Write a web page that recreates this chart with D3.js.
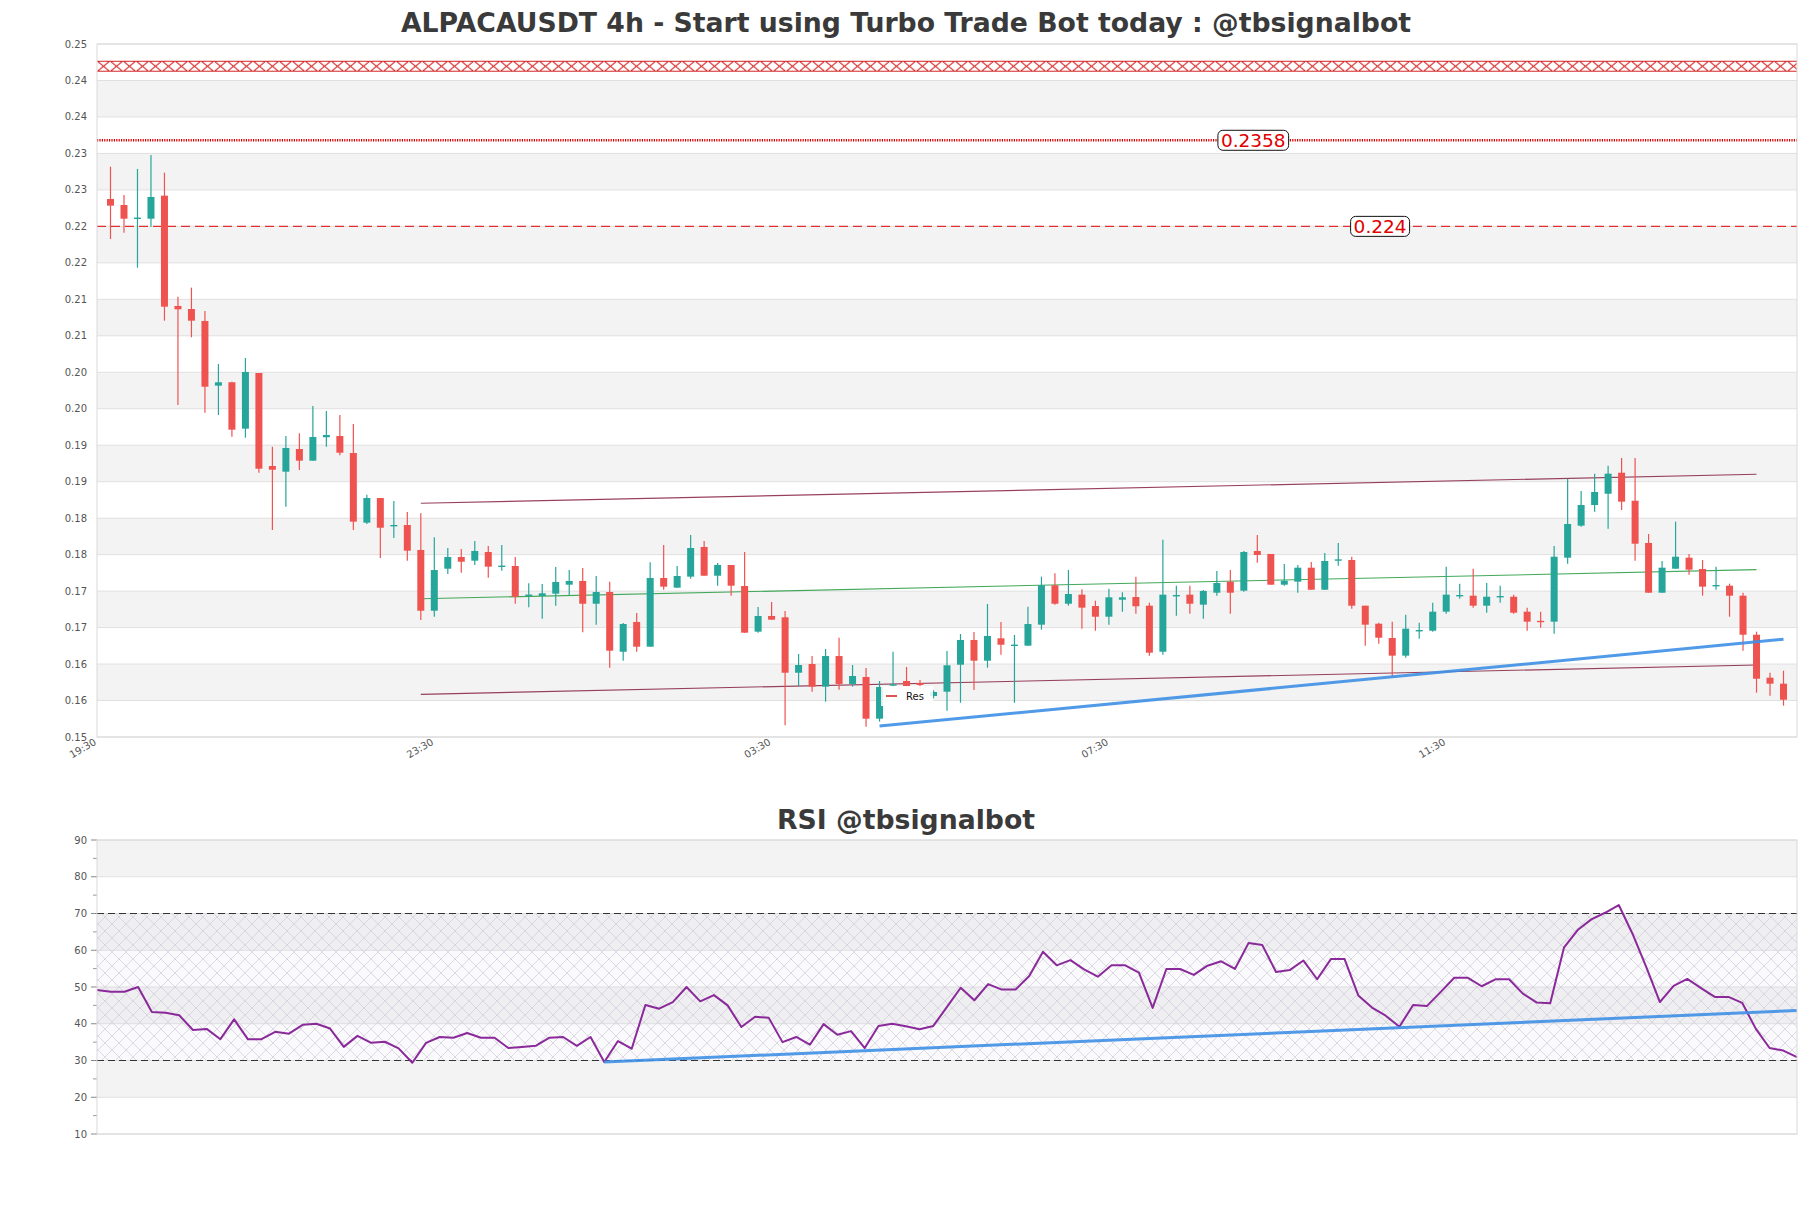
<!DOCTYPE html>
<html><head><meta charset="utf-8">
<script src="https://cdn.jsdelivr.net/npm/d3@7"></script>
<style>body{margin:0;background:#fff;} svg{display:block;font-family:"DejaVu Sans",sans-serif;}</style>
</head><body><svg id="c" width="1811" height="1208"></svg>
<script>
// ---------------- DATA ----------------
const mainTitle = "ALPACAUSDT 4h - Start using Turbo Trade Bot today : @tbsignalbot";
const rsiTitle = "RSI @tbsignalbot";
const timeLabels = ["19:30","23:30","03:30","07:30","11:30"];
const timeTickIdx = [-1,24,49,74,99];
const priceTickValues = [0.154,0.159,0.164,0.169,0.174,0.179,0.184,0.189,0.194,0.199,0.204,0.209,0.214,0.219,0.224,0.229,0.234,0.239,0.244,0.249];
const rsiTickValues = [10,20,30,40,50,60,70,80,90];

const open = [0.22775,0.22693,0.22511,0.22505,0.22821,0.21309,0.21267,0.21103,0.20216,0.20263,
0.19627,0.20390,0.19115,0.19037,0.19348,0.19188,0.19509,0.19526,0.19293,0.18338,
0.18676,0.18297,0.18306,0.17964,0.17131,0.17707,0.17868,0.17817,0.17936,0.17740,
0.17744,0.17343,0.17333,0.17365,0.17488,0.17539,0.17227,0.17388,0.16569,0.16977,
0.16638,0.17580,0.17447,0.17598,0.18005,0.17611,0.17758,0.17470,0.16844,0.17059,
0.17041,0.16281,0.16401,0.16090,0.16510,0.16127,0.16223,0.15651,0.16113,0.16168,
0.16140,0.15962,0.16021,0.16391,0.16730,0.16446,0.16753,0.16657,0.16652,0.16940,
0.17480,0.17227,0.17351,0.17196,0.17049,0.17282,0.17319,0.17200,0.16569,0.17337,
0.17351,0.17214,0.17378,0.17529,0.17406,0.17950,0.17909,0.17488,0.17529,0.17721,
0.17419,0.17826,0.17826,0.17200,0.16953,0.16757,0.16515,0.16857,0.16857,0.17118,
0.17337,0.17337,0.17200,0.17323,0.17323,0.17118,0.16985,0.16981,0.17858,0.18297,
0.18580,0.18735,0.19023,0.18639,0.18060,0.17378,0.17707,0.17858,0.17703,0.17474,
0.17474,0.17337,0.16802,0.16213,0.16131];
const high = [0.23218,0.22830,0.23187,0.23379,0.23136,0.21436,0.21560,0.21240,0.20514,0.20270,
0.20596,0.20390,0.19380,0.19526,0.19563,0.19938,0.19869,0.19814,0.19691,0.18722,
0.18676,0.18635,0.18485,0.18467,0.18138,0.17991,0.17977,0.18087,0.18018,0.18032,
0.17868,0.17507,0.17498,0.17731,0.17689,0.17717,0.17607,0.17529,0.16963,0.17100,
0.17795,0.18032,0.17744,0.18169,0.18087,0.17785,0.17758,0.17936,0.17182,0.17251,
0.17127,0.16538,0.16510,0.16606,0.16761,0.16387,0.16346,0.16168,0.16569,0.16360,
0.16181,0.16040,0.16579,0.16812,0.16839,0.17223,0.16977,0.16798,0.17186,0.17598,
0.17644,0.17689,0.17425,0.17269,0.17433,0.17384,0.17598,0.17241,0.18105,0.17474,
0.17474,0.17415,0.17676,0.17689,0.17950,0.18169,0.17909,0.17772,0.17758,0.17799,
0.17922,0.18060,0.17872,0.17200,0.16967,0.16981,0.17077,0.16967,0.17241,0.17735,
0.17502,0.17707,0.17511,0.17474,0.17351,0.17173,0.17118,0.18018,0.18941,0.18772,
0.19010,0.19119,0.19225,0.19225,0.18183,0.17813,0.18352,0.17909,0.17826,0.17735,
0.17502,0.17378,0.16844,0.16281,0.16309];
const low = [0.22227,0.22313,0.21834,0.22396,0.21107,0.19951,0.20880,0.19846,0.19814,0.19517,
0.19503,0.19023,0.18238,0.18557,0.19060,0.19188,0.19380,0.19262,0.18238,0.18320,
0.17854,0.18128,0.17817,0.17004,0.17049,0.17635,0.17652,0.17758,0.17584,0.17680,
0.17227,0.17178,0.17022,0.17200,0.17347,0.16835,0.16940,0.16350,0.16446,0.16569,
0.16638,0.17419,0.17447,0.17570,0.17611,0.17474,0.17337,0.16830,0.16830,0.17008,
0.15560,0.16095,0.16021,0.15884,0.16048,0.16090,0.15541,0.15610,0.16090,0.16090,
0.16060,0.15930,0.15761,0.15870,0.16044,0.16350,0.16528,0.15870,0.16652,0.16871,
0.17214,0.17200,0.16885,0.16857,0.16940,0.17118,0.17090,0.16515,0.16528,0.17063,
0.17090,0.17022,0.17337,0.17090,0.17392,0.17790,0.17488,0.17474,0.17378,0.17419,
0.17419,0.17748,0.17159,0.16652,0.16679,0.16227,0.16487,0.16748,0.16844,0.17090,
0.17296,0.17173,0.17104,0.17241,0.17090,0.16857,0.16898,0.16816,0.17776,0.18283,
0.18489,0.18256,0.18512,0.17817,0.17378,0.17378,0.17707,0.17625,0.17337,0.17419,
0.17049,0.16583,0.16007,0.15966,0.15829];
const close = [0.22684,0.22505,0.22511,0.22803,0.21299,0.21263,0.21107,0.20202,0.20263,0.19613,
0.20404,0.19078,0.19064,0.19362,0.19188,0.19513,0.19540,0.19297,0.18352,0.18676,
0.18269,0.18297,0.17954,0.17131,0.17689,0.17868,0.17803,0.17950,0.17735,0.17740,
0.17323,0.17343,0.17370,0.17525,0.17539,0.17227,0.17388,0.16583,0.16949,0.16638,
0.17580,0.17461,0.17607,0.17991,0.17611,0.17758,0.17474,0.16830,0.17059,0.17008,
0.16281,0.16387,0.16090,0.16510,0.16127,0.16236,0.15651,0.16085,0.16113,0.16099,
0.16113,0.16017,0.16383,0.16730,0.16446,0.16785,0.16665,0.16657,0.16949,0.17480,
0.17227,0.17360,0.17173,0.17049,0.17315,0.17315,0.17192,0.16556,0.17351,0.17337,
0.17227,0.17402,0.17511,0.17378,0.17936,0.17895,0.17488,0.17543,0.17721,0.17419,
0.17813,0.17826,0.17200,0.16940,0.16761,0.16515,0.16885,0.16857,0.17118,0.17351,
0.17337,0.17200,0.17323,0.17323,0.17104,0.16981,0.16981,0.17872,0.18320,0.18580,
0.18759,0.19010,0.18626,0.18050,0.17378,0.17721,0.17872,0.17694,0.17461,0.17474,
0.17337,0.16802,0.16199,0.16131,0.15911];

const rsi = [49.2,48.7,48.7,50.0,43.2,43.0,42.3,38.3,38.6,35.8,
41.2,35.8,35.8,37.8,37.3,39.7,40.0,38.7,33.7,36.7,
34.8,35.1,33.3,29.4,34.8,36.4,36.2,37.5,36.2,36.2,
33.4,33.7,34.0,36.2,36.4,34.0,36.4,29.6,35.3,33.2,
45.1,44.1,45.9,50.0,46.1,47.8,45.0,39.1,41.9,41.6,
35.0,36.4,34.3,39.9,37.0,38.0,33.4,39.4,40.0,39.3,
38.5,39.4,44.6,49.8,46.4,50.8,49.3,49.3,53.0,59.6,
55.9,57.3,54.8,52.8,55.9,55.9,53.9,44.3,54.9,54.9,
53.3,55.8,57.0,54.9,62.0,61.4,54.1,54.6,57.2,52.1,
57.6,57.6,47.7,44.4,42.2,39.2,45.1,44.8,48.6,52.5,
52.5,50.2,52.1,52.1,48.2,45.8,45.6,60.7,65.5,68.4,
70.2,72.3,64.5,55.5,45.9,50.3,52.2,49.7,47.3,47.3,
45.7,38.6,33.4,32.7,30.9];

const channelUpper = [[23,0.18604],[122,0.19001]];
const channelLower = [[23,0.15985],[122,0.16387]];
const channelMid   = [[23,0.17295],[122,0.17694]];
const supportTrend = [[57,0.1555],[124,0.1674]];
const rsiTrend     = [[37,29.6],[124,43.6]];
const levelValues  = [0.2358, 0.224];
const levelLabels  = ["0.2358", "0.224"];
const levelLabelIdx = [84.7, 94.1];
const zoneBand = [0.2452, 0.2467];
const rsiLevels = [30, 70];
const rsiZone = [30, 70];
const legendLabels = ["Res"];

// ---------------- LAYOUT ----------------
const M = {l:97, r:1797, t:44, b:737};
const R = {l:97, r:1797, t:840, b:1134};
const UP = "#26a69a", DOWN = "#ef5350";
const svg = d3.select("#c");
const x = d3.scaleLinear().domain([-1,125]).range([M.l,M.r]);
const y = d3.scaleLinear().domain([0.154,0.249]).range([M.b,M.t]);
const xr = d3.scaleLinear().domain([0,rsi.length-1]).range([R.l,R.r]);
const yr = d3.scaleLinear().domain([10,90]).range([R.b,R.t]);
const fmt2 = d3.format(".2f");

const defs = svg.append("defs");
const zTop = y(zoneBand[1]), zBot = y(zoneBand[0]), zh = zBot - zTop;
const zp = defs.append("pattern").attr("id","zoneX").attr("patternUnits","userSpaceOnUse")
  .attr("width",13).attr("height",zh).attr("patternTransform",`translate(${M.l},${zTop})`);
zp.append("path").attr("d",`M0,0L13,${zh}M0,${zh}L13,0M0,0.4H13M0,${zh-0.4}H13`)
  .attr("stroke","#d42424").attr("stroke-width",1).attr("fill","none");
const hp = defs.append("pattern").attr("id","rsiHatch").attr("patternUnits","userSpaceOnUse")
  .attr("width",14).attr("height",14);
hp.append("rect").attr("width",14).attr("height",14).attr("fill","rgba(190,170,210,0.07)");
hp.append("path").attr("d","M0,0L14,14M14,0L0,14").attr("stroke","#d0cad8").attr("stroke-width",0.7).attr("fill","none");

// ---------------- TITLES ----------------
svg.append("text").attr("x",906).attr("y",32).attr("text-anchor","middle")
  .attr("font-size",26.7).attr("font-weight","bold").attr("fill","#3a3a3a").text(mainTitle);
svg.append("text").attr("x",906).attr("y",829).attr("text-anchor","middle")
  .attr("font-size",26.7).attr("font-weight","bold").attr("fill","#3a3a3a").text(rsiTitle);

// ---------------- MAIN CHART ----------------
const g = svg.append("g");
for (let k=1;k<priceTickValues.length-1;k+=2){
  g.append("rect").attr("x",M.l).attr("width",M.r-M.l)
   .attr("y",y(priceTickValues[k+1])).attr("height",y(priceTickValues[k])-y(priceTickValues[k+1]))
   .attr("fill","#f3f3f3");
}
g.selectAll(".gl").data(priceTickValues).join("line")
  .attr("x1",M.l).attr("x2",M.r).attr("y1",d=>y(d)).attr("y2",d=>y(d))
  .attr("stroke","#e0e0e0").attr("stroke-width",1);
g.selectAll(".yl").data(priceTickValues).join("text")
  .attr("x",87).attr("y",d=>y(d)).attr("dy","0.35em").attr("text-anchor","end")
  .attr("font-size",10).attr("fill","#555").text(d=>fmt2(d));
g.selectAll(".xl").data(timeTickIdx).join("text")
  .attr("transform",d=>`translate(${x(d)},${M.b+7}) rotate(-30)`)
  .attr("text-anchor","end").attr("font-size",10).attr("fill","#555")
  .text((d,i)=>timeLabels[i]);

g.append("rect").attr("x",M.l).attr("width",M.r-M.l).attr("y",zTop).attr("height",zh)
  .attr("fill","url(#zoneX)");

g.append("line").attr("x1",M.l).attr("x2",M.r).attr("y1",y(levelValues[0])).attr("y2",y(levelValues[0]))
  .attr("stroke","#d80000").attr("stroke-width",2.4).attr("stroke-dasharray","1.2,1.2");
g.append("line").attr("x1",M.l).attr("x2",M.r).attr("y1",y(levelValues[1])).attr("y2",y(levelValues[1]))
  .attr("stroke","#e03030").attr("stroke-width",1.3).attr("stroke-dasharray","9,5");

const ln = d3.line().x(d=>x(d[0])).y(d=>y(d[1]));
g.append("path").attr("d",ln(channelUpper)).attr("stroke","#86203e").attr("stroke-opacity",0.85).attr("stroke-width",1.1).attr("fill","none");
g.append("path").attr("d",ln(channelLower)).attr("stroke","#86203e").attr("stroke-opacity",0.85).attr("stroke-width",1.1).attr("fill","none");
g.append("path").attr("d",ln(channelMid)).attr("stroke","#2e9e48").attr("stroke-opacity",0.9).attr("stroke-width",1.1).attr("fill","none");

const idx = d3.range(open.length);
const cg = g.append("g");
cg.selectAll(".wick").data(idx).join("line")
  .attr("x1",i=>x(i)).attr("x2",i=>x(i)).attr("y1",i=>y(high[i])).attr("y2",i=>y(low[i]))
  .attr("stroke",i=>close[i]>=open[i]?UP:DOWN).attr("stroke-width",1.2);
cg.selectAll(".body").data(idx).join("rect")
  .attr("x",i=>x(i)-3.5).attr("width",7)
  .attr("y",i=>{const t=y(Math.max(open[i],close[i])), b=y(Math.min(open[i],close[i])); return (b-t)<1.4?(t+b)/2-0.7:t;})
  .attr("height",i=>Math.max(1.4, Math.abs(y(open[i])-y(close[i]))))
  .attr("fill",i=>close[i]>=open[i]?UP:DOWN);

g.append("path").attr("d",ln(supportTrend)).attr("stroke","#3d8fe6").attr("stroke-opacity",0.9).attr("stroke-width",3).attr("fill","none");

levelValues.forEach((v,i)=>{
  const cx = x(levelLabelIdx[i]), cy = y(v);
  const t = g.append("text").attr("x",cx).attr("y",cy).attr("dy","0.36em").attr("text-anchor","middle")
    .attr("font-size",18.5).attr("fill","#e00000").text(levelLabels[i]);
  const bb = t.node().getBBox();
  g.insert("rect", () => t.node()).attr("x",bb.x-3).attr("y",cy-10).attr("width",bb.width+6).attr("height",20)
    .attr("rx",5).attr("fill","#fff").attr("stroke","#111").attr("stroke-width",1);
});

const lg = g.append("g");
lg.append("rect").attr("x",881).attr("y",686).attr("width",52).attr("height",20).attr("fill","#fff").attr("fill-opacity",0.85);
lg.append("line").attr("x1",886).attr("x2",897).attr("y1",696).attr("y2",696).attr("stroke","#d62728").attr("stroke-width",1.6);
lg.append("text").attr("x",906).attr("y",696).attr("dy","0.35em").attr("font-size",10).attr("fill","#111").text(legendLabels[0]);

g.append("rect").attr("x",M.l).attr("y",M.t).attr("width",M.r-M.l).attr("height",M.b-M.t)
  .attr("fill","none").attr("stroke","#d9d9d9").attr("stroke-width",1);

// ---------------- RSI CHART ----------------
const r = svg.append("g");
[20,40,60,80].forEach(v=>{
  r.append("rect").attr("x",R.l).attr("width",R.r-R.l).attr("y",yr(v+10)).attr("height",yr(v)-yr(v+10)).attr("fill","#f3f3f3");
});
r.selectAll(".rg").data(rsiTickValues).join("line")
  .attr("x1",R.l).attr("x2",R.r).attr("y1",d=>yr(d)).attr("y2",d=>yr(d))
  .attr("stroke","#e0e0e0").attr("stroke-width",1);
r.append("rect").attr("x",R.l).attr("width",R.r-R.l).attr("y",yr(rsiZone[1])).attr("height",yr(rsiZone[0])-yr(rsiZone[1]))
  .attr("fill","url(#rsiHatch)");
rsiLevels.forEach(v=>{
  r.append("line").attr("x1",R.l).attr("x2",R.r).attr("y1",yr(v)).attr("y2",yr(v))
   .attr("stroke","#333").attr("stroke-width",1.2).attr("stroke-dasharray","7,4");
});
r.selectAll(".rl").data(rsiTickValues).join("text")
  .attr("x",87).attr("y",d=>yr(d)).attr("dy","0.35em").attr("text-anchor","end")
  .attr("font-size",10).attr("fill","#555").text(d=>d);
r.selectAll(".rt").data(rsiTickValues).join("line")
  .attr("x1",91).attr("x2",R.l).attr("y1",d=>yr(d)).attr("y2",d=>yr(d)).attr("stroke","#888");
r.selectAll(".rm").data(rsiTickValues.slice(0,-1).map(d=>d+5)).join("line")
  .attr("x1",93).attr("x2",R.l).attr("y1",d=>yr(d)).attr("y2",d=>yr(d)).attr("stroke","#999");

const rl = d3.line().x((d,i)=>xr(i)).y(d=>yr(d));
r.append("path").attr("d",rl(rsi)).attr("stroke","#8a2a9a").attr("stroke-width",2).attr("fill","none").attr("stroke-linejoin","round");
const rtl = d3.line().x(d=>xr(d[0])).y(d=>yr(d[1]));
r.append("path").attr("d",rtl(rsiTrend)).attr("stroke","#3d8fe6").attr("stroke-opacity",0.9).attr("stroke-width",3).attr("fill","none");
r.append("rect").attr("x",R.l).attr("y",R.t).attr("width",R.r-R.l).attr("height",R.b-R.t)
  .attr("fill","none").attr("stroke","#d9d9d9").attr("stroke-width",1);
</script></body></html>
